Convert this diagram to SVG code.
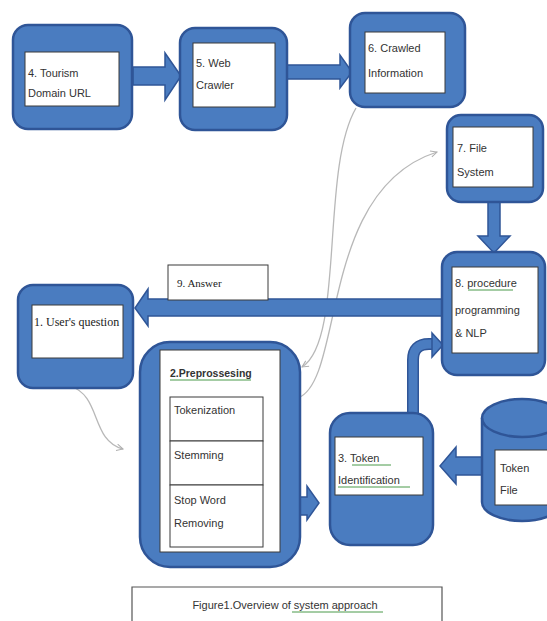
<svg xmlns="http://www.w3.org/2000/svg" width="547" height="621" viewBox="0 0 547 621">
<defs>
<style>
.outer{fill:#4a7cc0;stroke:#2f5597;stroke-width:2.5}
.inner{fill:#fff;stroke:#3a3a3a;stroke-width:1}
.arr{fill:#4a7cc0;stroke:#2f5597;stroke-width:1.5;stroke-linejoin:miter}
.t{font-family:"Liberation Sans",Arial,sans-serif;font-size:11px;fill:#333}
.s{font-family:"Liberation Serif","Times New Roman",serif;font-size:12px;fill:#222}
.g{fill:none;stroke:#b8b8b8;stroke-width:1.3}
.ul{stroke:#4a9a4a;stroke-width:1;fill:none}
</style>
<marker id="open" viewBox="0 0 10 10" refX="9" refY="5" markerWidth="8" markerHeight="8" orient="auto" markerUnits="userSpaceOnUse">
<path d="M1 1 L9 5 L1 9" fill="none" stroke="#b0b0b0" stroke-width="1.3"/>
</marker>
</defs>
<rect width="547" height="621" fill="#fff"/>

<g id="connectors">
<path class="g" d="M356 108 C320 170 345 340 302 367" marker-end="url(#open)"/>
<path class="g" d="M298 398 C345 380 318 190 437 152" marker-end="url(#open)"/>
<path class="g" d="M70 386 C102 396 90 440 123 449" marker-end="url(#open)"/>
<polygon class="arr" points="133,67 165,67 165,53 181,76 165,100 165,85 133,85"/>
<polygon class="arr" points="287,65 340,65 340,55 352,72 340,88 340,79 287,79"/>
<polygon class="arr" points="488,202 500,202 500,236 510,236 494,253 478,236 488,236"/>
<polygon class="arr" points="443,299 148,299 148,289 135,308 148,326 148,316 443,316"/>
<polygon class="arr" points="300,497 307,497 307,486 319,503 307,520 307,515 300,515"/>
<polygon class="arr" points="482,457 456,457 456,447 440,466 456,484 456,475 482,475"/>
<path d="M413 414 V360 Q413 344 429 344 H432" fill="none" stroke="#2f5597" stroke-width="12"/>
<path d="M413 415 V360 Q413 344 429 344 H433" fill="none" stroke="#4a7cc0" stroke-width="9"/>
<polygon class="arr" points="432,333 443,345 432,357"/>
</g>

<g id="n4">
<rect class="outer" x="13" y="25" width="119" height="104" rx="15"/>
<rect class="inner" x="25" y="52" width="94" height="54"/>
<text class="t" x="28" y="77">4. Tourism</text>
<text class="t" x="28" y="97">Domain URL</text>
</g>

<g id="n5">
<rect class="outer" x="180" y="28" width="107" height="102" rx="15"/>
<rect class="inner" x="193" y="43" width="82" height="64"/>
<text class="t" x="196" y="67">5. Web</text>
<text class="t" x="196" y="89">Crawler</text>
</g>

<g id="n6">
<rect class="outer" x="350" y="13" width="115" height="94" rx="15"/>
<rect class="inner" x="365" y="32" width="80" height="61"/>
<text class="t" x="368" y="52">6. Crawled</text>
<text class="t" x="368" y="77">Information</text>
</g>

<g id="n7">
<rect class="outer" x="447" y="115" width="96" height="87" rx="14"/>
<rect class="inner" x="453" y="127" width="80" height="60"/>
<text class="t" x="457" y="152">7. File</text>
<text class="t" x="457" y="176">System</text>
</g>

<g id="n8">
<rect class="outer" x="442" y="252" width="103" height="123" rx="15"/>
<rect class="inner" x="452" y="267" width="86" height="86"/>
<text class="t" x="455" y="287">8. procedure</text>
<path class="ul" d="M468 290 H513"/>
<text class="t" x="455" y="314">programming</text>
<text class="t" x="455" y="337">&amp; NLP</text>
</g>

<g id="n9">
<rect class="inner" x="168" y="265" width="100" height="35"/>
<text class="s" x="177" y="287" style="font-size:11px">9. Answer</text>
</g>

<g id="n1">
<rect class="outer" x="18" y="285" width="115" height="103" rx="15"/>
<rect class="inner" x="32" y="305" width="91" height="53"/>
<text class="s" x="34" y="326">1. User's question</text>
</g>

<g id="n2">
<rect class="outer" x="140" y="342" width="160" height="225" rx="30"/>
<rect class="inner" x="160" y="350" width="120" height="202"/>
<text class="t" x="170" y="377" style="font-weight:bold;font-size:10.5px">2.Preprossesing</text>
<path class="ul" d="M170 380 H251"/>
<rect class="inner" x="170" y="397" width="93" height="44"/>
<rect class="inner" x="170" y="441" width="93" height="44"/>
<rect class="inner" x="170" y="485" width="93" height="62"/>
<text class="t" x="174" y="414">Tokenization</text>
<text class="t" x="174" y="459">Stemming</text>
<text class="t" x="174" y="504">Stop Word</text>
<text class="t" x="174" y="527">Removing</text>
</g>

<g id="n3">
<rect class="outer" x="330" y="413" width="103" height="132" rx="20"/>
<rect class="inner" x="335" y="437" width="88" height="58"/>
<text class="t" x="338" y="462">3. Token</text>
<path class="ul" d="M352 465 H391"/>
<text class="t" x="338" y="484">Identification</text>
<path class="ul" d="M338 487 H410"/>
</g>

<g id="tokenfile">
<path class="outer" d="M482 418 A40 19 0 0 1 562 418 V502 A40 19 0 0 1 482 502 Z"/>
<path d="M482 418 A40 19 0 0 0 562 418" fill="none" stroke="#2f5597" stroke-width="2.5"/>
<rect class="inner" x="495" y="450" width="55" height="55"/>
<text class="t" x="500" y="472">Token</text>
<text class="t" x="500" y="494">File</text>
</g>

<g id="caption">
<path d="M132 621 V587 H442 V621" fill="none" stroke="#555" stroke-width="1.2"/>
<text class="t" x="285" y="609" text-anchor="middle">Figure1.Overview of system approach</text>
<path class="ul" d="M292 612 H383"/>
</g>
</svg>
